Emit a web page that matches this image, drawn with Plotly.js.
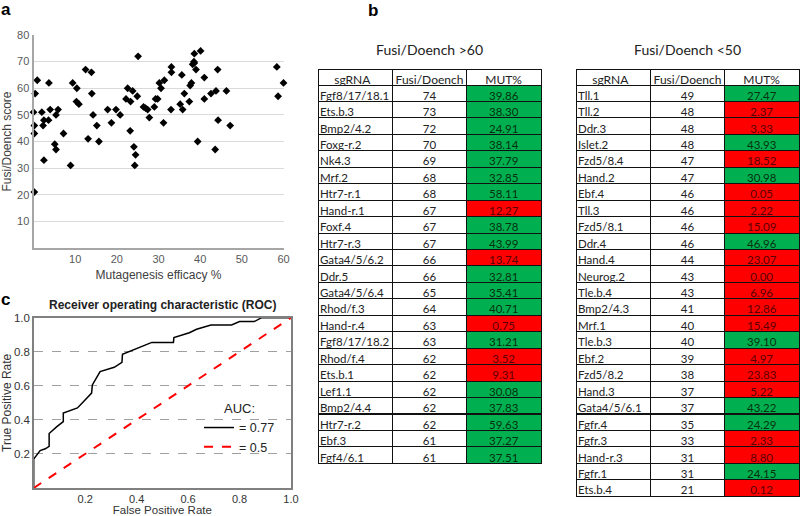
<!DOCTYPE html>
<html><head><meta charset="utf-8">
<script src="https://cdn.plot.ly/plotly-3.0.1.min.js"></script>
<style>html,body{margin:0;padding:0;background:#fff}#chart{width:800px;height:516px}</style>
</head><body><div id="chart"></div>
<script>
// Panel a: mutagenesis efficacy (%) vs Fusi/Doench score
const effX = [0,0.4,0.9,0.2,0.2,2,2.5,2.3,3.6,3.7,4,5.4,5.9,5.1,5.4,7.2,9.4,10.4,10.3,10.9,12.5,13.1,13.9,14,14.3,15.2,15.7,17.8,18.7,19.8,20.8,22.2,22.6,23.3,23.8,23.2,24.1,24.9,25.1,24.5,26.4,26.9,27.4,27.8,29,29.3,29.8,30.2,30.6,31.2,31.4,33,33.1,33.1,35.2,35.6,35.8,36.2,37.4,37.6,37.9,38.2,38.5,38.6,38.6,39,39.4,40.1,41,41,42.6,43.6,43.8,44.2,44.3,46.3,47.2,58.4,58.7,60,2.5,8.9,0.2,24.3];
const scoreY = [51,58,63,46,43,51,48,46,48,62,52,50,52,39,37,43,62,60,55,54,67,41,66,58,50,46,40,52,47,52,50,56,60,55,59,44,38,57,72,35,53,52.5,52,49,53,56,56,62,60,47,63,52,68,66,54,65,52,58,55,61,62,69,70,73,69.5,67,40,74,56,64,58,37,59,67,48,59,46,68,57,62,33,31,21,31];

// Panel c: ROC curve
const rocFPR = [0,0,0.025,0.045,0.06,0.06,0.09,0.115,0.115,0.17,0.195,0.225,0.228,0.258,0.313,0.343,0.345,0.459,0.543,0.545,0.605,0.633,0.689,0.769,0.8,0.857,0.886,1];
const rocTPR = [0,0.17,0.22,0.23,0.245,0.32,0.36,0.39,0.44,0.47,0.51,0.557,0.605,0.684,0.709,0.738,0.785,0.855,0.855,0.883,0.912,0.932,0.957,0.957,0.977,0.977,1,1];
const chanceFPR = [0,1];
const chanceTPR = [0,1];
const aucCurve = '= 0.77';
const aucChance = '= 0.5';

// Panel b: tables
const tableHeader = ['sgRNA','Fusi/Doench','MUT%'];
const leftSg = ['Fgf8/17/18.1','Ets.b.3','Bmp2/4.2','Foxg-r.2','Nk4.3','Mrf.2','Htr7-r.1','Hand-r.1','Foxf.4','Htr7-r.3','Gata4/5/6.2','Ddr.5','Gata4/5/6.4','Rhod/f.3','Hand-r.4','Fgf8/17/18.2','Rhod/f.4','Ets.b.1','Lef1.1','Bmp2/4.4','Htr7-r.2','Ebf.3','Fgf4/6.1'];
const leftFusi = [74,73,72,70,69,68,68,67,67,67,66,66,65,64,63,63,62,62,62,62,62,61,61];
const leftMut = [39.86,38.30,24.91,38.14,37.79,32.85,58.11,12.27,38.78,43.99,13.74,32.81,35.41,40.71,0.75,31.21,3.52,9.31,30.08,37.83,59.63,37.27,37.51];
const rightSg = ['Tll.1','Tll.2','Ddr.3','Islet.2','Fzd5/8.4','Hand.2','Ebf.4','Tll.3','Fzd5/8.1','Ddr.4','Hand.4','Neurog.2','Tle.b.4','Bmp2/4.3','Mrf.1','Tle.b.3','Ebf.2','Fzd5/8.2','Hand.3','Gata4/5/6.1','Fgfr.4','Fgfr.3','Hand-r.3','Fgfr.1','Ets.b.4'];
const rightFusi = [49,48,48,48,47,47,46,46,46,46,44,43,43,41,40,40,39,38,37,37,35,33,31,31,21];
const rightMut = [27.47,2.37,3.33,43.93,18.52,30.98,0.05,2.22,15.09,46.96,23.07,0.00,6.96,12.86,15.49,39.10,4.97,23.83,5.22,43.22,24.29,2.33,8.80,24.15,0.12];
const leftTitle = 'Fusi/Doench >60';
const rightTitle = 'Fusi/Doench <50';

const GREEN = '#00b050', RED = '#ff0000';
function fills(m){ return m.map(v => v >= 24 ? GREEN : RED); }
function txtCols(m){ return m.map(v => v >= 24 ? '#06300f' : '#5a0000'); }

const W = 800, H = 516;
const px = x => x / W;
const py = y => 1 - y / H;

// grid + fills layer
function tableGrid(mut, n, x0, x1, y0, y1){
  const blank = Array(n).fill('');
  return {
    type: 'table',
    domain: {x: [px(x0), px(x1)], y: [py(y1), py(y0)]},
    columnwidth: [75, 74, 75],
    header: {values: ['', '', ''], height: 16, line: {color: '#111', width: 1}, fill: {color: '#fff'},
             font: {size: 11}},
    cells: {values: [blank, blank, blank], height: 16.45, line: {color: '#111', width: 1},
            fill: {color: ['#fff', '#fff', fills(mut)]}, font: {size: 11}}
  };
}
// text layer (transparent, slightly offset to match cell text placement)
function tableText(sg, fusi, mut, x0, x1, y0, y1){
  return {
    type: 'table',
    domain: {x: [px(x0 - 6), px(x1)], y: [py(y1), py(y0 - 2)]},
    columnwidth: [81, 74, 75],
    header: {
      values: tableHeader, align: ['center','center','center'], height: 16,
      line: {color: 'rgba(0,0,0,0)', width: 0}, fill: {color: 'rgba(0,0,0,0)'},
      font: {family: 'Lato, sans-serif', size: 12, color: '#222'}
    },
    cells: {
      values: [sg, fusi, mut.map(v => v.toFixed(2))],
      align: ['left','center','center'], height: 16.45,
      line: {color: 'rgba(0,0,0,0)', width: 0}, fill: {color: 'rgba(0,0,0,0)'},
      font: {family: 'Lato, sans-serif', size: 11.5, color: ['#222', '#222', txtCols(mut)]}
    }
  };
}

const traces = [
  {type: 'scatter', mode: 'markers', x: effX, y: scoreY, xaxis: 'x', yaxis: 'y',
   marker: {symbol: 'diamond', size: 6, color: '#000'}, showlegend: false, cliponaxis: false, hoverinfo: 'skip'},
  {type: 'scatter', mode: 'lines', x: rocFPR, y: rocTPR, xaxis: 'x2', yaxis: 'y2',
   line: {color: '#000', width: 1.5}, name: aucCurve, cliponaxis: false},
  {type: 'scatter', mode: 'lines', x: chanceFPR, y: chanceTPR, xaxis: 'x2', yaxis: 'y2',
   line: {color: '#ff0000', width: 2, dash: 'dash'}, name: aucChance},
  tableGrid(leftMut, leftSg.length, 318, 542, 69, 470),
  tableText(leftSg, leftFusi, leftMut, 318, 542, 69, 470),
  tableGrid(rightMut, rightSg.length, 576, 799, 69, 503),
  tableText(rightSg, rightFusi, rightMut, 576, 799, 69, 503)
];

const ann = (text, x, y, font) => ({text, x: px(x), y: py(y), xref: 'paper', yref: 'paper',
  xanchor: 'center', yanchor: 'middle', showarrow: false, font});

const layout = {
  width: W, height: H,
  margin: {l: 0, r: 0, t: 0, b: 0},
  paper_bgcolor: '#fff', plot_bgcolor: 'rgba(0,0,0,0)',
  font: {family: 'Liberation Sans, Arial, sans-serif', color: '#333'},
  showlegend: true,
  legend: {
    x: px(199), y: py(396), xanchor: 'left', yanchor: 'top',
    bgcolor: 'rgba(0,0,0,0)', borderwidth: 0,
    title: {text: 'AUC:', side: 'top center', font: {size: 13, color: '#222'}},
    font: {size: 12.5, color: '#222'}, tracegroupgap: 0
  },
  xaxis: {
    domain: [px(33.5), px(283.5)], range: [0, 60], anchor: 'y',
    tickvals: [10,20,30,40,50,60], ticks: '', showgrid: false, zeroline: false,
    showline: true, linecolor: '#a6a6a6', linewidth: 2,
    tickfont: {size: 11, color: '#595959'},
    title: {text: 'Mutagenesis efficacy %', font: {size: 12, color: '#404040'}, standoff: 6}
  },
  yaxis: {
    domain: [py(248), py(35)], range: [0, 80], anchor: 'x',
    tickvals: [10,20,30,40,50,60,70,80], ticks: '', showgrid: true, gridcolor: '#dadada',
    zeroline: false, showline: true, linecolor: '#a6a6a6', linewidth: 2,
    tickfont: {size: 11, color: '#595959'},
    title: {text: 'Fusi/Doench score', font: {size: 12, color: '#404040'}, standoff: 6}
  },
  xaxis2: {
    domain: [px(33.7), px(291)], range: [0, 1], anchor: 'y2',
    tickvals: [0.2,0.4,0.6,0.8,1.0], tickformat: '.1f', ticks: '', showgrid: false, zeroline: false,
    showline: true, mirror: true, linecolor: '#808080', linewidth: 1.5,
    tickfont: {size: 11, color: '#333'},
    title: {text: 'False Positive Rate', font: {size: 11.5, color: '#333'}, standoff: 1}
  },
  yaxis2: {
    domain: [py(488), py(317.7)], range: [0, 1], anchor: 'x2',
    tickvals: [0.2,0.4,0.6,0.8,1.0], tickformat: '.1f', ticks: '',
    showgrid: true, gridcolor: '#a0a0a0', griddash: 'dash', zeroline: false,
    showline: true, mirror: true, linecolor: '#808080', linewidth: 1.5,
    tickfont: {size: 11.5, color: '#333'},
    title: {text: 'True Positive Rate', font: {size: 12, color: '#333'}, standoff: 4}
  },
  annotations: [
    ann('<b>a</b>', 6, 9, {size: 17, color: '#000'}),
    ann('<b>b</b>', 373, 10, {size: 17, color: '#000'}),
    ann('<b>c</b>', 5, 299, {size: 17, color: '#000'}),
    ann('<b>Receiver operating characteristic (ROC)</b>', 162, 305, {size: 12, color: '#222'}),
    ann(leftTitle, 429, 50, {family: 'Lato, sans-serif', size: 14, color: '#222'}),
    ann(rightTitle, 687, 50, {family: 'Lato, sans-serif', size: 14, color: '#222'})
  ]
};

Plotly.newPlot('chart', traces, layout, {displayModeBar: false, staticPlot: true});
</script>
</body></html>
